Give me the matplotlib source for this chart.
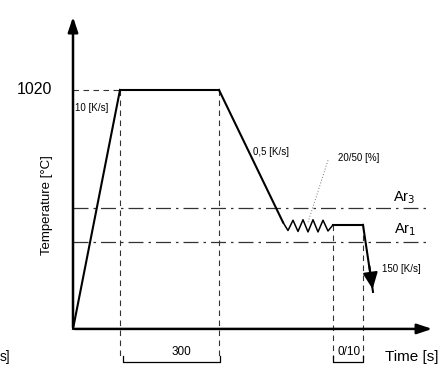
import matplotlib.pyplot as plt

plt.rcParams['font.family'] = ['Liberation Sans', 'DejaVu Sans']

# Schematic heat-treatment cycle (time in drawing units, temperature in °C)
ramp_time = [0, 47]
ramp_temp = [0, 1020]
hold_time = [47, 146]
hold_temp = [1020, 1020]
cool_time = [146, 210]
cool_temp = [1020, 455]
zigzag_time = [210, 215, 220, 225, 230, 235, 240, 245, 250, 255, 260]
zigzag_temp = [455, 420, 464, 416, 466, 414, 466, 414, 464, 418, 444]
iso_time = [260, 290]
iso_temp = [444, 444]
quench_time = [290, 300]
quench_temp = [444, 158]

t_austenite = 1020
ar3 = 516
ar1 = 371
guide_times = [47, 146, 260, 290]
x_axis_end = 362
y_axis_end = 1344

fig = plt.figure(figsize=(4.38, 3.65), dpi=100)
ax = fig.add_axes([0, 0, 1, 1])
ax.set_xlim(-73, 365)
ax.set_ylim(-154, 1404)
ax.axis('off')

# axes with arrows
ax.annotate('', xy=(0, y_axis_end), xytext=(0, -5),
            arrowprops=dict(arrowstyle='-|>,head_length=0.9,head_width=0.3',
                            color='black', lw=1.8))
ax.annotate('', xy=(x_axis_end, 0), xytext=(-1, 0),
            arrowprops=dict(arrowstyle='-|>,head_length=0.9,head_width=0.3',
                            color='black', lw=1.8))

# guide lines
dash = dict(color='#333333', lw=0.8, ls=(0, (5, 4)))
ax.plot([0, ramp_time[1]], [t_austenite, t_austenite], **dash)
ax.plot([guide_times[0]] * 2, [t_austenite, -125], **dash)
ax.plot([guide_times[1]] * 2, [t_austenite, -125], **dash)
ax.plot([guide_times[2]] * 2, [iso_temp[0], -125], **dash)
ax.plot([guide_times[3]] * 2, [iso_temp[0], -125], **dash)

dashdot = dict(color='#333333', lw=0.9, ls=(0, (12, 4, 2, 4)))
ax.plot([0, 357], [ar3, ar3], **dashdot)
ax.plot([0, 357], [ar1, ar1], **dashdot)

# cycle
line = dict(color='black', lw=1.5)
ax.plot(ramp_time, ramp_temp, **line)
ax.plot(hold_time, hold_temp, **line)
ax.plot(cool_time, cool_temp, **line)
ax.plot(zigzag_time, zigzag_temp, color='black', lw=1.1)
ax.plot(iso_time, iso_temp, **line)
ax.plot(quench_time, quench_temp, **line)
ax.annotate('', xy=(quench_time[1], quench_temp[1]), xytext=(296, 280),
            arrowprops=dict(arrowstyle='-|>,head_length=1.0,head_width=0.45',
                            color='black', lw=1.5))

# leader line for 20/50 [%]
ax.plot([255, 235], [720, 455], color='#777777', lw=0.7, ls=(0, (1, 2)))

# brackets
ax.plot([50, 50, 147, 147], [-115, -143, -143, -115], color='black', lw=0.9)
ax.plot([260, 260, 290, 290], [-115, -143, -143, -115], color='black', lw=0.9)

# texts
ax.text(-21, t_austenite, '1020', fontsize=11.5, ha='right', va='center')
ax.text(2, 945, '10 [K/s]', fontsize=7, ha='left', va='center')
ax.text(198, 755, '0,5 [K/s]', fontsize=7, ha='center', va='center')
ax.text(265, 730, '20/50 [%]', fontsize=7, ha='left', va='center')
ax.text(320, 560, 'Ar$_3$', fontsize=10.5, ha='left', va='center')
ax.text(321, 425, 'Ar$_1$', fontsize=10.5, ha='left', va='center')
ax.text(309, 255, '150 [K/s]', fontsize=7, ha='left', va='center')
ax.text(-26, 530, 'Temperature [°C]', fontsize=9.5, rotation=90,
        ha='center', va='center')
ax.text(108, -100, '300', fontsize=8.5, ha='center', va='center')
ax.text(276, -100, '0/10', fontsize=8.5, ha='center', va='center')
ax.text(339, -120, 'Time [s]', fontsize=11, ha='center', va='center')
ax.text(-73, -120, 's]', fontsize=10, ha='left', va='center')

fig.savefig('out.png', dpi=100)
